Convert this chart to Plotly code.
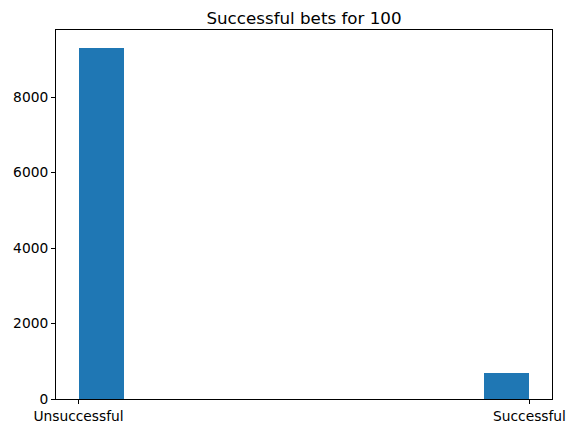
import plotly.graph_objects as go

categories = ["Unsuccessful", "Successful"]
tick_positions = [0, 1]
bin_left_edges = [0.0, 0.9]
bin_width = 0.1
counts = [9310, 690]
title = "Successful bets for 100"

# The page body has an 8px default margin; shrink the figure so that
# the visible drawing lines up with the 575x433 window.
OFF = 8

fig = go.Figure()
fig.add_trace(go.Bar(
    x=[e + bin_width / 2 for e in bin_left_edges],
    y=counts,
    width=bin_width,
    marker=dict(color="#1f77b4", line=dict(width=0)),
    hoverinfo="skip",
    cliponaxis=False,
))

ymax = max(counts) * 1.05
fig.update_layout(
    width=575 - OFF, height=433 - OFF,
    margin=dict(l=56 - OFF, r=23, t=30 - OFF, b=34, autoexpand=False),
    paper_bgcolor="white", plot_bgcolor="white",
    font=dict(family="DejaVu Sans", size=13.8, color="black"),
    title=dict(text=title, x=0.5, xref="paper", xanchor="center",
               y=1, yref="paper", yanchor="bottom", pad=dict(b=6),
               font=dict(size=16.7)),
    showlegend=False,
    bargap=0,
)
fig.update_xaxes(
    range=[-0.05, 1.05], tickmode="array", tickvals=tick_positions, ticktext=categories,
    showgrid=False, zeroline=False, showline=True, linecolor="black", linewidth=1,
    mirror=True, ticks="outside", ticklen=4, tickcolor="black", automargin=False,
)
fig.update_yaxes(
    range=[0, ymax], tickmode="array", tickvals=[0, 2000, 4000, 6000, 8000],
    showgrid=False, zeroline=False, showline=True, linecolor="black", linewidth=1,
    mirror=True, ticks="outside", ticklen=4, tickcolor="black", automargin=False,
)

fig.write_html("out.html")
